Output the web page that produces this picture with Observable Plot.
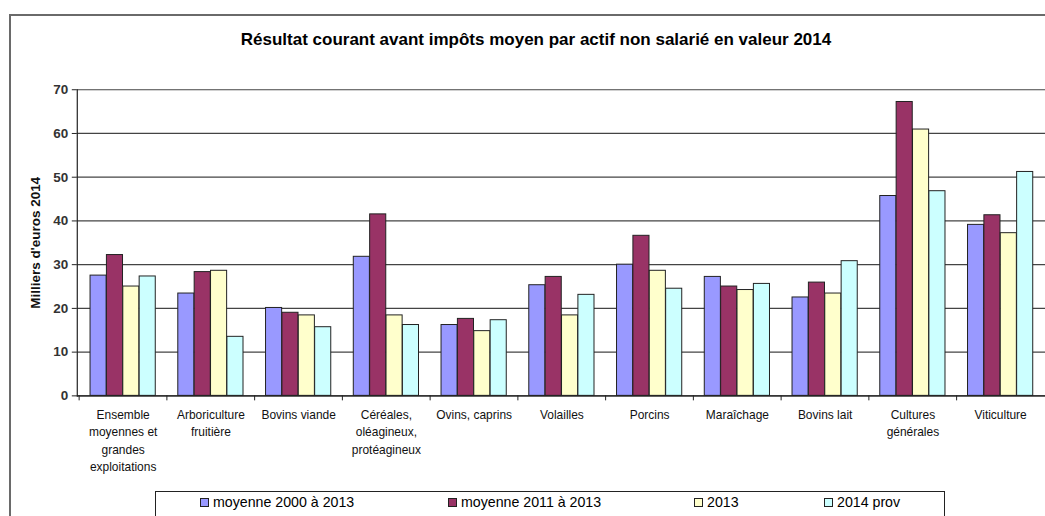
<!DOCTYPE html>
<html>
<head>
<meta charset="utf-8">
<script src="https://cdn.jsdelivr.net/npm/d3@7"></script>
<script src="https://cdn.jsdelivr.net/npm/@observablehq/plot@0.6"></script>
<style>
  html, body { margin: 0; padding: 0; background: #fff; overflow: hidden; }
  #page { position: relative; width: 1045px; height: 516px; overflow: hidden; font-family: "Liberation Sans", Arial, sans-serif; }
  #frame { position: absolute; left: 9px; top: 14px; width: 1100px; height: 600px; border-left: 2px solid #6a6a6a; border-top: 2px solid #6a6a6a; }
  #title { position: absolute; left: 0; width: 1072px; top: 30px; text-align: center; font-weight: bold; font-size: 17px; color: #000; white-space: nowrap; }
  #chart { position: absolute; left: 0; top: 0; }
  #legend { position: absolute; left: 155px; top: 491px; width: 788px; height: 40px; border: 1px solid #222; background: #fff; }
  .item { position: absolute; top: 2px; font-size: 14.2px; color: #000; white-space: nowrap; }
  .sw { position: absolute; top: 6px; width: 7px; height: 7px; border: 1px solid #222; }
</style>
</head>
<body>
<div id="page">
  <div id="frame"></div>
  <div id="chart"></div>
  <div id="title"></div>
  <div id="legend"></div>
</div>
<script>
const title = "Résultat courant avant impôts moyen par actif non salarié en valeur 2014";
const yLabel = "Milliers d'euros 2014";
const categories = [
  "Ensemble\nmoyennes et\ngrandes\nexploitations",
  "Arboriculture\nfruitière",
  "Bovins viande",
  "Céréales,\noléagineux,\nprotéagineux",
  "Ovins, caprins",
  "Volailles",
  "Porcins",
  "Maraîchage",
  "Bovins lait",
  "Cultures\ngénérales",
  "Viticulture"
];
const seriesNames = ["moyenne 2000 à 2013", "moyenne 2011 à 2013", "2013", "2014 prov"];
const seriesColors = ["#9999FF", "#993366", "#FFFFCC", "#CCFFFF"];
const avg2000_2013 = [27.5, 23.4, 20.1, 31.8, 16.2, 25.3, 30.0, 27.2, 22.5, 45.7, 39.1];
const avg2011_2013 = [32.2, 28.3, 19.0, 41.5, 17.6, 27.2, 36.6, 25.0, 25.9, 67.2, 41.3];
const val2013 = [25.0, 28.6, 18.4, 18.4, 14.8, 18.4, 28.6, 24.2, 23.4, 60.9, 37.2];
const val2014prov = [27.3, 13.5, 15.7, 16.2, 17.3, 23.1, 24.5, 25.6, 30.8, 46.8, 51.2];
const yTicks = [0, 10, 20, 30, 40, 50, 60, 70];

const seriesValues = [avg2000_2013, avg2011_2013, val2013, val2014prov];

document.getElementById("title").textContent = title;

const W = 1048, H = 490, mL = 77, mR = 0, mT = 89.5, mB = 93.5;
const step = (W - mL - mR) / categories.length;
const gap = step * 0.128;               // outer gap in each category band
const barW = (step - 2 * gap) / seriesNames.length;

const barMarks = seriesNames.map((s, j) => {
  const rows = categories.map((c, i) => ({cat: c, series: s, value: seriesValues[j][i]}));
  return Plot.barY(rows, {
    x: "cat", y: "value", fill: "series", stroke: "#222", strokeWidth: 1,
    insetLeft: gap + barW * j,
    insetRight: step - gap - barW * (j + 1)
  });
});

const chart = Plot.plot({
  width: W,
  height: H,
  marginLeft: mL,
  marginRight: mR,
  marginTop: mT,
  marginBottom: mB,
  style: {fontFamily: "'Liberation Sans', Arial, sans-serif", background: "transparent", overflow: "visible"},
  x: {domain: categories, padding: 0, axis: null, label: null},
  y: {domain: [0, 70], axis: null},
  color: {domain: seriesNames, range: seriesColors},
  marks: [
    Plot.gridY(yTicks, {stroke: "#444", strokeOpacity: 1, strokeWidth: 1.2}),
    Plot.axisY({ticks: yTicks, tickSize: 5, tickPadding: 4, fontSize: 13.5, fontWeight: "bold", fill: "#333", stroke: "#222", label: null}),
    Plot.axisY({ticks: [], tickSize: 0, fontSize: 13.5, fontWeight: "bold", fill: "#111",
      label: yLabel, labelAnchor: "center", labelArrow: "none", labelOffset: 47}),
    ...barMarks,
    Plot.ruleY([0], {stroke: "#222", strokeWidth: 1.2}),
    Plot.frame({anchor: "left", stroke: "#222", strokeWidth: 1.2}),
    Plot.axisX({tickSize: 5, tickFormat: () => "", dx: -step / 2, stroke: "#222", label: null}),
    Plot.axisX({tickSize: 0, tickPadding: 11, fontSize: 12, lineHeight: 1.45, fill: "#111", label: null})
  ]
});
document.getElementById("chart").appendChild(chart);

const legend = document.getElementById("legend");
const swLeft = [44, 292, 538, 668];
seriesNames.forEach((s, i) => {
  const sw = document.createElement("div");
  sw.className = "sw";
  sw.style.left = swLeft[i] + "px";
  sw.style.background = seriesColors[i];
  legend.appendChild(sw);
  const t = document.createElement("div");
  t.className = "item";
  t.style.left = (swLeft[i] + 13) + "px";
  t.textContent = s;
  legend.appendChild(t);
});
</script>
</body>
</html>
